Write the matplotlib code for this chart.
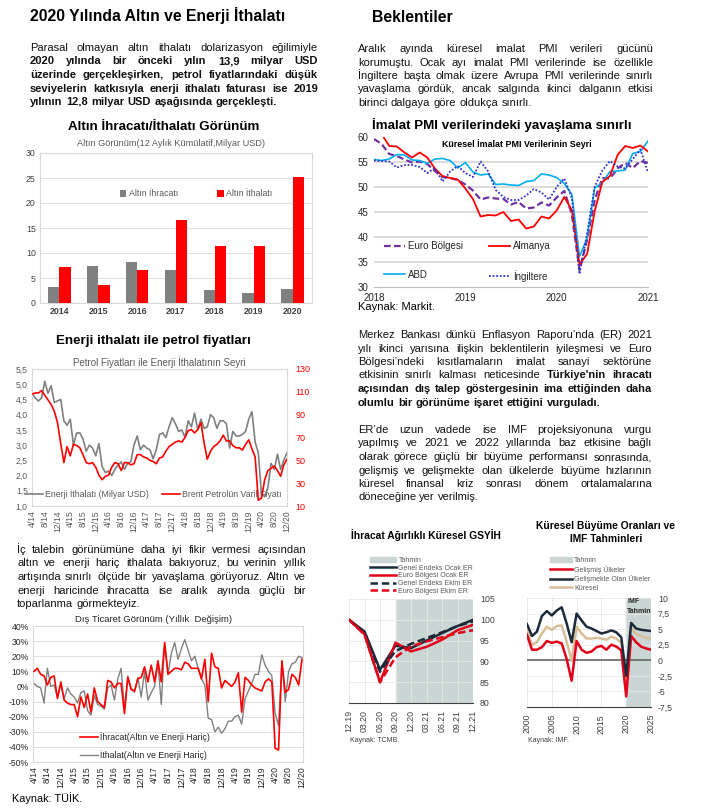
import matplotlib
matplotlib.use('Agg')
import matplotlib.pyplot as plt
import numpy as np
import pandas as pd
from matplotlib.patches import Patch
from matplotlib.lines import Line2D

plt.rcParams['font.family'] = ['Liberation Sans', 'DejaVu Sans']

# --- veriler ---
yillar = ['2014', '2015', '2016', '2017', '2018', '2019', '2020']
altin_ihracat = [3.2, 7.4, 8.2, 6.6, 2.6, 2.0, 2.8]
altin_ithalat = [7.2, 3.5, 6.5, 16.6, 11.4, 11.3, 25.2]

aylar = pd.date_range('2014-04-01', '2020-12-01', freq='MS')
ay_etiket = [f"{d.month}/{d.year % 100}" for d in aylar]

enerji_ithalati = [4.7, 4.55, 4.45, 4.55, 5.1, 4.7, 4.95, 4.4, 4.45, 4.5, 3.8, 3.65,
                   3.85, 3.0, 3.4, 3.4, 3.2, 2.8, 3.0, 2.9, 2.65, 3.05, 2.3, 2.1,
                   2.15, 2.0, 2.2, 2.35, 2.45, 2.2, 2.4, 2.45, 3.0, 3.3, 2.85, 3.0,
                   2.9, 2.85, 2.55, 2.85, 3.35, 3.4, 3.25, 3.6, 3.9, 3.7, 3.45, 3.5,
                   3.25, 3.8, 3.6, 4.05, 3.5, 3.85, 3.55, 3.6, 4.0, 3.9, 3.55, 3.8,
                   3.8, 3.7, 2.9, 3.45, 3.3, 3.3, 3.35, 3.45, 3.85, 4.1, 3.1, 2.75,
                   1.4, 1.3, 1.6, 2.4, 2.2, 2.7, 2.2, 2.5, 2.75]
brent = [108, 109, 109, 111, 107, 103, 99, 93, 83, 65, 48, 62,
         54, 64, 63, 61, 55, 48, 47, 48, 44, 37, 33, 36,
         37, 44, 48, 47, 41, 48, 48, 46, 47, 55, 55, 53,
         52, 50, 49, 47, 52, 53, 58, 62, 64, 66, 67, 66,
         70, 76, 77, 74, 77, 83, 65, 51, 58, 62, 64, 67,
         72, 67, 67, 63, 61, 61, 59, 64, 68, 60, 53, 15,
         17, 33, 41, 43, 45, 41, 36, 46, 51]

ihracat = [10, 12, 8, 7, 1, 6, 7, -8, 3, -9, -11, -12, -12, -20, -7, -14, -5, -17,
           -1, -10, -12, -14, 4, 3, -1, 2, 2, -18,
           6, -2, -3, 5, 6, 13, 3, 14,
           3, 17, 3, 29, 8, 10, 12, 12, 11, 16, 15, 12,
           12, 12, 5, 18, -10, 22, 13, 12, -1, 4, 2, 0,
           3, 9, -17, 6, 4, 1, -1, -2, -3, 3, 5, 3,
           -41, -42, 17, -4, -2, 8, 6, 1, 18]
ithalat = [2, 0, -1, -11, 12, 0, 1, -7, 1, -8, -1, -5, -7, -11, -4, -3, -16, -19,
           -6, -12, -13, -15, -1, 1, -9, 5, 12, -15,
           7, -1, -4, 6, -7, 10, -9, -4,
           0, 15, -12, 29, 8, 22, 29, 18, 25, 31, 24, 17,
           20, 12, 5, 1, -21, -22, -30, -27, -31, -28, -23, -23,
           -20, -19, -25, -8, -3, 2, 8, 8, 21, 14, 10, 7,
           -18, -26, 16, -10, 10, 15, 16, 20, 19]

pmi_yillar = ['2018', '2019', '2020', '2021']
euro_bolgesi = [59.6, 58.6, 56.6, 56.2, 55.5, 54.9, 55.1, 54.6, 53.2, 52.0, 51.8, 51.4,
                50.5, 49.3, 47.5, 47.9, 47.7, 47.6, 46.5, 47.0, 45.7, 45.9, 46.9, 46.3,
                47.9, 49.2, 44.5, 33.4, 39.4, 47.4, 51.8, 51.7, 53.7, 54.8, 53.8, 55.2, 54.8]
almanya = [61.1, 60.6, 58.2, 58.1, 56.9, 55.9, 56.9, 55.9, 53.7, 52.2, 51.8, 51.5,
           49.7, 47.6, 44.1, 44.4, 44.3, 45.0, 43.2, 43.5, 41.7, 42.1, 44.1, 43.7,
           45.3, 48.0, 45.4, 34.5, 36.6, 45.2, 51.0, 52.2, 56.4, 58.2, 57.8, 58.3, 57.1]
abd = [55.5, 55.3, 55.6, 56.5, 56.4, 55.4, 55.3, 54.7, 55.6, 55.7, 55.3, 53.8,
       54.9, 53.0, 52.4, 52.6, 50.5, 50.6, 50.4, 50.3, 51.1, 51.3, 52.6, 52.4,
       51.9, 50.7, 48.5, 36.1, 39.8, 49.8, 50.9, 53.1, 53.2, 53.4, 56.7, 57.1, 59.2]
ingiltere = [55.3, 55.2, 55.1, 53.9, 54.4, 54.4, 54.0, 52.8, 53.8, 51.1, 53.1, 54.2,
             52.8, 52.0, 55.1, 53.1, 49.4, 48.0, 47.4, 47.4, 48.3, 49.6, 48.9, 47.5,
             50.0, 51.7, 47.8, 32.6, 40.7, 50.1, 53.3, 55.2, 54.1, 53.7, 55.6, 57.5, 52.9]

ceyrekler = ['12.19', '03.20', '06.20', '09.20', '12.20', '03.21', '06.21', '09.21', '12.21']
genel_ocak = [100, 97.2, 88.0, 93.8, 93.2, 95.0, 96.8, 98.5, 100.0]
euro_ocak = [100, 96.5, 85.0, 94.5, 92.4, 93.5, 95.2, 97.5, 98.8]
genel_ekim = [100, 97.0, 87.5, 92.5, 94.2, 95.6, 97.0, 98.5, 99.6]
euro_ekim = [100, 96.5, 85.0, 91.0, 93.6, 94.8, 95.8, 96.8, 97.5]

buyume_yillar = list(range(2000, 2026))
gelismis = [4.1, 1.7, 1.7, 2.1, 3.1, 2.8, 3.0, 2.7, 0.2, -3.3, 3.1, 1.7, 1.2, 1.4, 2.1,
            2.3, 1.7, 2.5, 2.2, 1.6, -5.8, 3.9, 2.9, 2.2, 1.9, 1.7]
gelismekte = [5.8, 3.9, 4.6, 7.1, 7.9, 7.2, 8.0, 8.5, 5.9, 2.9, 7.5, 6.4, 5.4, 5.1, 4.7,
              4.3, 4.5, 4.8, 4.5, 3.7, -2.5, 6.0, 5.1, 4.9, 4.8, 4.7]
kuresel = [4.8, 2.5, 2.9, 4.3, 5.4, 4.9, 5.5, 5.6, 3.0, -0.1, 5.4, 4.3, 3.5, 3.5, 3.6,
           3.5, 3.3, 3.8, 3.5, 2.8, -4.4, 5.2, 4.2, 3.9, 3.6, 3.5]

# --- metinler ---
metin_altin = [("Parasal olmayan altın ithalatı dolarizasyon eğilimiyle", None),
               ("2020 yılında bir önceki yılın 13,9 milyar USD", 0),
               ("üzerinde gerçekleşirken, petrol fiyatlarındaki düşük", 0),
               ("seviyelerin katkısıyla enerji ithalatı faturası ise 2019", 0),
               ("yılının 12,8 milyar USD aşağısında gerçekleşti.", 0)]
metin_ic_talep = [("İç talebin görünümüne daha iyi fikir vermesi açısından", None),
                  ("altın ve enerji hariç ithalata bakıyoruz, bu verinin yıllık", None),
                  ("artışında sınırlı ölçüde bir yavaşlama görüyoruz. Altın ve", None),
                  ("enerji haricinde ihracatta ise aralık ayında güçlü bir", None),
                  ("toparlanma görmekteyiz.", None)]
metin_pmi = [("Aralık ayında küresel imalat PMI verileri gücünü", None),
             ("korumuştu. Ocak ayı imalat PMI verilerinde ise özellikle", None),
             ("İngiltere başta olmak üzere Avrupa PMI verilerinde sınırlı", None),
             ("yavaşlama gördük, ancak salgında ikinci dalganın etkisi", None),
             ("birinci dalgaya göre oldukça sınırlı.", None)]
metin_er = [("Merkez Bankası dünkü Enflasyon Raporu’nda (ER) 2021", None),
            ("yılı ikinci yarısına ilişkin beklentilerin iyileşmesi ve Euro", None),
            ("Bölgesi’ndeki kısıtlamaların imalat sanayi sektörüne", None),
            ("etkisinin sınırlı kalması neticesinde Türkiye'nin ihracatı", 4),
            ("açısından dış talep göstergesinin ima ettiğinden daha", 0),
            ("olumlu bir görünüme işaret ettiğini vurguladı.", 0)]
metin_imf = [("ER’de uzun vadede ise IMF projeksiyonuna vurgu", None),
             ("yapılmış ve 2021 ve 2022 yıllarında baz etkisine bağlı", None),
             ("olarak görece güçlü bir büyüme performansı sonrasında,", None),
             ("gelişmiş ve gelişmekte olan ülkelerde büyüme hızlarının", None),
             ("küresel finansal kriz sonrası dönem ortalamalarına", None),
             ("döneceğine yer verilmiş.", None)]

W, H = 701, 810
fig = plt.figure(figsize=(W / 100, H / 100), dpi=100)
fig.patch.set_facecolor('white')
renderer = fig.canvas.get_renderer()


def px_ax(l, t, r, b):
    return fig.add_axes([l / W, 1 - b / H, (r - l) / W, (b - t) / H])


def yazi(x, y, s, **kw):
    kw.setdefault('va', 'center')
    return fig.text(x / W, 1 - y / H, s, **kw)


def paragraf(x0, x1, y0, satirlar, dy=13.5, size=8.0, color='#111111'):
    # iki yana yaslanmis satirlar, taban cizgisine gore
    taban = size * 100 / 72 * 0.36
    for k, (satir, kalin) in enumerate(satirlar):
        y = y0 + k * dy + taban
        kelimeler = satir.split()
        parcalar = []
        for i, w in enumerate(kelimeler):
            bold = kalin is not None and i >= kalin
            parcalar.append(yazi(x0, y, w, fontsize=size, color=color, va='baseline',
                                 fontweight='bold' if bold else 'normal'))
        genislik = [p.get_window_extent(renderer).width for p in parcalar]
        if k == len(satirlar) - 1:
            bosluk = size * 100 / 72 * 0.3
        else:
            bosluk = (x1 - x0 - sum(genislik)) / (len(kelimeler) - 1)
        x = x0
        for p, g in zip(parcalar, genislik):
            p.set_x(x / W)
            x += g + bosluk


# --- basliklar ve metinler ---
yazi(30, 16, '2020 Yılında Altın ve Enerji İthalatı', fontsize=11.3, fontweight='bold')
yazi(372, 17, 'Beklentiler', fontsize=11.3, fontweight='bold')
paragraf(30, 318, 47, metin_altin)
paragraf(17, 306, 549, metin_ic_talep)
paragraf(358, 653, 48, metin_pmi)
paragraf(358, 652, 334, metin_er)
paragraf(358, 652, 429, metin_imf)

# --- altin grafigi ---
yazi(164, 127, 'Altın İhracatı/İthalatı Görünüm', fontsize=9.6, fontweight='bold', ha='center')
yazi(171, 144, 'Altın Görünüm(12 Aylık Kümülatif,Milyar USD)', fontsize=6.6, color='#595959', ha='center')
ax = px_ax(40, 153, 312, 303)
x = np.arange(len(yillar))
ax.bar(x - 0.145, altin_ihracat, 0.29, color='#808080', label='Altın İhracatı', zorder=3)
ax.bar(x + 0.145, altin_ithalat, 0.29, color='#ff0000', label='Altın İthalatı', zorder=3)
ax.set_xlim(-0.5, 6.5)
ax.set_ylim(0, 30)
ax.set_yticks(range(0, 31, 5))
ax.set_xticks(x, yillar, fontweight='bold')
ax.grid(axis='y', color='#e0e0e0', lw=0.7, zorder=0)
for s in ax.spines.values():
    s.set_color('#d9d9d9')
ax.tick_params(length=0, labelsize=6.3, colors='#404040', pad=3)
ax.legend(ncol=2, loc='center left', bbox_to_anchor=((120 - 40) / 272, (303 - 194) / 150),
          frameon=False, fontsize=6.3, labelcolor='#595959', handlelength=0.7,
          handleheight=0.7, handletextpad=0.3, columnspacing=4.5, borderpad=0, borderaxespad=0)

# --- enerji grafigi ---
yazi(153, 341, 'Enerji ithalatı ile petrol fiyatları', fontsize=9.6, fontweight='bold', ha='center')
yazi(159, 362, 'Petrol Fiyatları ile Enerji İthalatının Seyri', fontsize=7, color='#595959', ha='center')
ax = px_ax(32, 369, 287, 506)
n = len(ay_etiket)
l1, = ax.plot(range(n), enerji_ithalati, color='#808080', lw=1.2, label='Enerji İthalatı (Milyar USD)')
ax.set_xlim(0, n - 1)
ax.set_ylim(1.0, 5.5)
yt = np.arange(1.0, 5.51, 0.5)
ax.set_yticks(yt, [f"{v:.1f}".replace('.', ',') for v in yt])
ax.set_xticks(range(0, n, 4), ay_etiket[::4], rotation=90)
ax.tick_params(length=0, labelsize=6.2, colors='#595959', pad=3)
for s in ax.spines.values():
    s.set_color('#d9d9d9')
axb = ax.twinx()
l2, = axb.plot(range(n), brent, color='#ff0000', lw=1.2, label='Brent Petrolün Varil Fiyatı')
axb.set_ylim(10, 130)
axb.set_yticks(range(10, 131, 20))
axb.tick_params(length=0, labelsize=6.5, colors='#ff0000', pad=6)
for s in axb.spines.values():
    s.set_visible(False)
ax.legend(handles=[l1, l2], ncol=2, loc='center left', bbox_to_anchor=((25 - 32) / 255, (506 - 494) / 137),
          frameon=False, fontsize=6.3, labelcolor='#595959', handlelength=2.0, handletextpad=0.3,
          columnspacing=1.5, borderpad=0, borderaxespad=0)

# --- dis ticaret grafigi ---
yazi(154, 619, 'Dış Ticaret Görünüm (Yıllık  Değişim)', fontsize=6.8, color='#262626', ha='center')
ax = px_ax(33, 626, 303, 762)
ax.plot(range(n), ihracat, color='#ff0000', lw=1.2, label='İhracat(Altın ve Enerji Hariç)', zorder=3)
ax.plot(range(n), ithalat, color='#808080', lw=1.0, label='İthalat(Altın ve Enerji Hariç)', zorder=2)
ax.set_xlim(-0.3, n - 0.7)
ax.set_ylim(-50, 40)
ax.set_yticks(range(-50, 41, 10), [f"{v}%" for v in range(-50, 41, 10)])
ax.set_xticks(range(0, n, 4), ay_etiket[::4], rotation=90)
ax.grid(axis='y', color='#e0e0e0', lw=0.7)
for s in ax.spines.values():
    s.set_color('#d9d9d9')
ax.tick_params(length=0, labelsize=6.2, colors='#262626', pad=3)
ax.legend(loc='center left', bbox_to_anchor=((80 - 33) / 270, (762 - 746) / 136), frameon=False,
          fontsize=6.3, labelcolor='#262626', handlelength=2.0, handletextpad=0.3,
          labelspacing=1.0, borderpad=0, borderaxespad=0)
yazi(12, 798, 'Kaynak: TÜİK.', fontsize=7.8)

# --- PMI grafigi ---
yazi(502, 125, 'İmalat PMI verilerindeki yavaşlama sınırlı', fontsize=9.6, fontweight='bold', ha='center')
ax = px_ax(374, 137, 648, 287)
m = np.arange(len(euro_bolgesi))
ax.plot(m, euro_bolgesi, color='#7030a0', lw=1.6, ls=(0, (3, 1.5)), label='Euro Bölgesi')
ax.plot(m, abd, color='#00b0f0', lw=1.2, label='ABD')
ax.plot(m, almanya, color='#ff0000', lw=1.3, label='Almanya')
ax.plot(m, ingiltere, color='#3333cc', lw=1.3, ls=(0, (1, 1)), label='İngiltere')
ax.set_xlim(0, 36)
ax.set_ylim(30, 60)
ax.set_yticks(range(30, 61, 5))
ax.set_xticks([0, 12, 24, 36], pmi_yillar)
for yv in range(35, 60, 5):
    ax.axhline(yv, color='#d9d9d9', lw=1.3, zorder=0)
for s in ['left', 'right', 'top']:
    ax.spines[s].set_visible(False)
ax.spines['bottom'].set_color('#bfbfbf')
ax.tick_params(length=0, labelsize=7, colors='#262626', pad=4)
ax.text(0.52, 0.955, 'Küresel İmalat PMI Verilerinin Seyri', transform=ax.transAxes,
        fontsize=6.4, fontweight='bold', ha='center', va='center')
ax.legend(ncol=2, loc='center left', bbox_to_anchor=((384 - 374) / 274, (287 - 261.5) / 150),
          frameon=False, fontsize=7, labelcolor='#262626', handlelength=2.2, handletextpad=0.3,
          columnspacing=2.6, labelspacing=1.9, borderpad=0, borderaxespad=0)
yazi(358, 307, 'Kaynak: Markit.', fontsize=8)

# --- GSYIH grafigi ---
lac = '#1c2a3a'
kir = '#e2001a'
golge = '#c9d6d3'
yazi(351, 535, 'İhracat Ağırlıklı Küresel GSYİH', fontsize=7.4, fontweight='bold')
ax = px_ax(349, 599, 473, 703)
q = np.arange(len(ceyrekler))
ax.axvspan(3, 8, color=golge, zorder=0)
ax.plot(q, genel_ocak, color=lac, lw=1.8, zorder=3)
ax.plot(q, euro_ocak, color=kir, lw=1.8, zorder=3)
ax.plot(q, genel_ekim, color=lac, lw=1.8, ls=(0, (3, 1.5)), zorder=4)
ax.plot(q, euro_ekim, color=kir, lw=1.8, ls=(0, (3, 1.5)), zorder=4)
ax.set_xlim(0, 8)
ax.set_ylim(80, 105)
ax.set_yticks(range(80, 106, 5))
ax.set_xticks(q, ceyrekler, rotation=90)
ax.yaxis.tick_right()
ax.grid(color='#e6e6e6', lw=0.6, zorder=1)
for s in ['left', 'right', 'top']:
    ax.spines[s].set_visible(False)
ax.spines['bottom'].set_color('#404040')
ax.tick_params(length=0, labelsize=6.3, colors='#404040', pad=5)
tutamak = [Patch(color=golge), Line2D([], [], color=lac, lw=1.8), Line2D([], [], color=kir, lw=1.8),
           Line2D([], [], color=lac, lw=1.8, ls=(0, (3, 1.5))), Line2D([], [], color=kir, lw=1.8, ls=(0, (3, 1.5)))]
fig.legend(tutamak, ['Tahmin', 'Genel Endeks Ocak ER', 'Euro Bölgesi Ocak ER', 'Genel Endeks Ekim ER',
                     'Euro Bölgesi Ekim ER'],
           loc='upper left', bbox_to_anchor=(370 / W, 1 - 557 / H), frameon=False, fontsize=5,
           labelcolor='#595959', handlelength=3.8, handleheight=0.7, labelspacing=0.1,
           handletextpad=0.3, borderpad=0, borderaxespad=0)
yazi(350, 741, 'Kaynak: TCMB.', fontsize=5, color='#404040')

# --- kuresel buyume grafigi ---
tan = '#d8bf98'
yazi(606, 526, 'Küresel Büyüme Oranları ve', fontsize=7.4, fontweight='bold', ha='center')
yazi(606, 539, 'IMF Tahminleri', fontsize=7.4, fontweight='bold', ha='center')
ax = px_ax(527, 598, 651, 707)
ax.axvspan(2020, 2025, color=golge, zorder=0)
ax.axhline(0, color='#595959', lw=1.1, zorder=2)
ax.plot(buyume_yillar, kuresel, color=tan, lw=1.8, zorder=3)
ax.plot(buyume_yillar, gelismis, color=kir, lw=1.8, zorder=4)
ax.plot(buyume_yillar, gelismekte, color=lac, lw=1.8, zorder=5)
ax.set_xlim(2000, 2025)
ax.set_ylim(-7.5, 10)
yt = np.arange(-7.5, 10.1, 2.5)
ax.set_yticks(yt, [f"{v:g}".replace('.', ',') for v in yt])
ax.set_xticks(range(2000, 2026, 5), [str(v) for v in range(2000, 2026, 5)], rotation=90)
ax.yaxis.tick_right()
ax.grid(color='#e6e6e6', lw=0.6, zorder=1)
for s in ['left', 'right', 'top']:
    ax.spines[s].set_visible(False)
ax.spines['bottom'].set_color('#404040')
ax.tick_params(length=0, labelsize=6.3, colors='#404040', pad=5)
ax.text(2020.2, 8.6, 'IMF\nTahmin', fontsize=5, fontweight='bold', color='#262626', va='center',
        linespacing=1.6)
tutamak = [Patch(color=golge), Line2D([], [], color=kir, lw=1.8), Line2D([], [], color=lac, lw=1.8),
           Line2D([], [], color=tan, lw=1.8)]
fig.legend(tutamak, ['Tahmin', 'Gelişmiş Ülkeler', 'Gelişmekte Olan Ülkeler', 'Küresel'],
           loc='upper left', bbox_to_anchor=(550 / W, 1 - 557 / H), frameon=False, fontsize=5,
           labelcolor='#595959', handlelength=3.2, handleheight=0.7, labelspacing=0.25,
           handletextpad=0.3, borderpad=0, borderaxespad=0)
yazi(528, 741, 'Kaynak: IMF.', fontsize=5, color='#404040')

fig.savefig('out.png', dpi=100)
